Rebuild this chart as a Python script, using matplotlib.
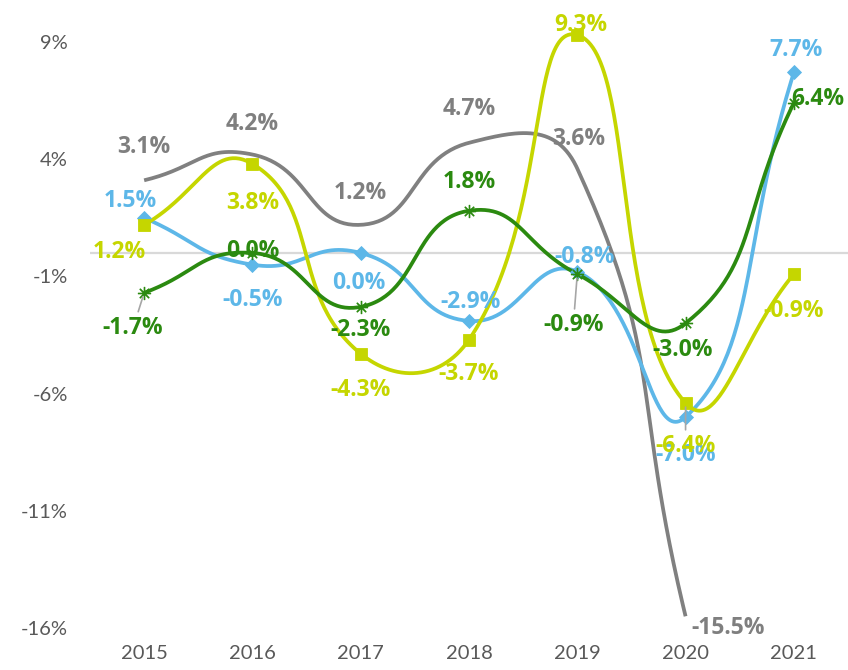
import numpy as np
import matplotlib
matplotlib.use("Agg")
import matplotlib.pyplot as plt

plt.rcParams['font.family'] = ['Lato', 'DejaVu Sans']

years = [2015, 2016, 2017, 2018, 2019, 2020, 2021]

gray_vals = [3.1, 4.2, 1.2, 4.7, 3.6, -15.5]
blue_vals = [1.5, -0.5, 0.0, -2.9, -0.8, -7.0, 7.7]
yellow_vals = [1.2, 3.8, -4.3, -3.7, 9.3, -6.4, -0.9]
green_vals = [-1.7, 0.0, -2.3, 1.8, -0.9, -3.0, 6.4]

yticks = [-16, -11, -6, -1, 4, 9]

GRAY = '#808080'
BLUE = '#5db7e8'
YELLOW = '#c5d600'
GREEN = '#2b8a10'

# pixel scale of the axes (used so the smoothing behaves like Excel's)
SX, SY = 108.2, 23.4


def excel_smooth(xs, ys, f=0.5, n=60):
    P = np.column_stack([np.asarray(xs, float) * SX, np.asarray(ys, float) * SY])
    pts = []
    t = np.linspace(0, 1, n)[:, None]
    for i in range(len(P) - 1):
        p0 = P[i - 1] if i > 0 else P[i]
        p1, p2 = P[i], P[i + 1]
        p3 = P[i + 2] if i + 2 < len(P) else P[i + 1]
        d01 = np.hypot(*(p1 - p0))
        d12 = np.hypot(*(p2 - p1))
        d23 = np.hypot(*(p3 - p2))
        b1 = p1 + (p2 - p0) * f * d12 / (d01 + d12)
        b2 = p2 - (p3 - p1) * f * d12 / (d12 + d23)
        seg = (1 - t) ** 3 * p1 + 3 * (1 - t) ** 2 * t * b1 + 3 * (1 - t) * t ** 2 * b2 + t ** 3 * p2
        pts.append(seg if i == 0 else seg[1:])
    pts = np.vstack(pts)
    return pts[:, 0] / SX, pts[:, 1] / SY


fig = plt.figure(figsize=(8.48, 6.70), dpi=100)
ax = fig.add_axes([90 / 848, 42 / 670, 758 / 848, 586 / 670])
ax.set_xlim(2014.5, 2021.5)
ax.set_ylim(-16, 9)

ax.axhline(0, color='#d9d9d9', lw=1.6, zorder=1)

series = [
    (gray_vals, GRAY, None, 0),
    (blue_vals, BLUE, 'D', 7),
    (yellow_vals, YELLOW, 's', 8),
    (green_vals, GREEN, '$\u2733$', 9),
]
for vals, col, mk, ms in series:
    xs = years[:len(vals)]
    sx, sy = excel_smooth(xs, vals)
    ax.plot(sx, sy, color=col, lw=2.7, clip_on=False, zorder=3, solid_capstyle='butt')
    if mk:
        ax.plot(xs, vals, linestyle='none', marker=mk, color=col, ms=ms,
                clip_on=False, zorder=4, markeredgewidth=0.6)

# label offsets in pixels (dx, dy)
gray_off = [(0, 33), (0, 31), (0, 32), (0, 34), (1, 30), (6, -12)]
blue_off = [(-14, 17), (0, -35), (-2, -30), (2, 19), (7, 15), (0, -38), (2, 22)]
yellow_off = [(-25, -27), (0, -39), (0, -36), (0, -34), (4, 10), (0, -43), (0, -37)]
green_off = [(-11, -35), (0, 2), (0, -23), (0, 29), (-4, -51), (-3, -27), (-3, 4)]

leaders = {('g', 0), ('g', 4), ('y', 5)}

for key, vals, col, offs in [('a', gray_vals, '#7f7f7f', gray_off),
                             ('b', blue_vals, BLUE, blue_off),
                             ('y', yellow_vals, YELLOW, yellow_off),
                             ('g', green_vals, GREEN, green_off)]:
    for i, (v, off) in enumerate(zip(vals, offs)):
        ha = 'center'
        if (key == 'a' and i == 5) or (key == 'g' and i == 6):
            ha = 'left'
        kw = {}
        if (key, i) in leaders:
            kw['arrowprops'] = dict(arrowstyle='-', color='#a6a6a6', lw=1.2,
                                    shrinkA=1, shrinkB=3)
        ax.annotate(f'{v:.1f}%', (years[i], v), xytext=off, textcoords='offset pixels',
                    ha=ha, va='center', color=col, fontsize=16.5, fontweight='bold',
                    family=['Open Sans', 'DejaVu Sans'],
                    zorder=5, annotation_clip=False, **kw)

ax.set_xticks(years)
ax.set_xticklabels([str(y) for y in years])
ax.set_yticks(yticks)
ax.set_yticklabels([f'{t}%' for t in yticks])
ax.tick_params(axis='both', length=0, labelsize=14.5, labelcolor='#595959')
ax.tick_params(axis='y', pad=16)
ax.tick_params(axis='x', pad=12)
for s in ax.spines.values():
    s.set_visible(False)

fig.savefig('out.png', dpi=100)
